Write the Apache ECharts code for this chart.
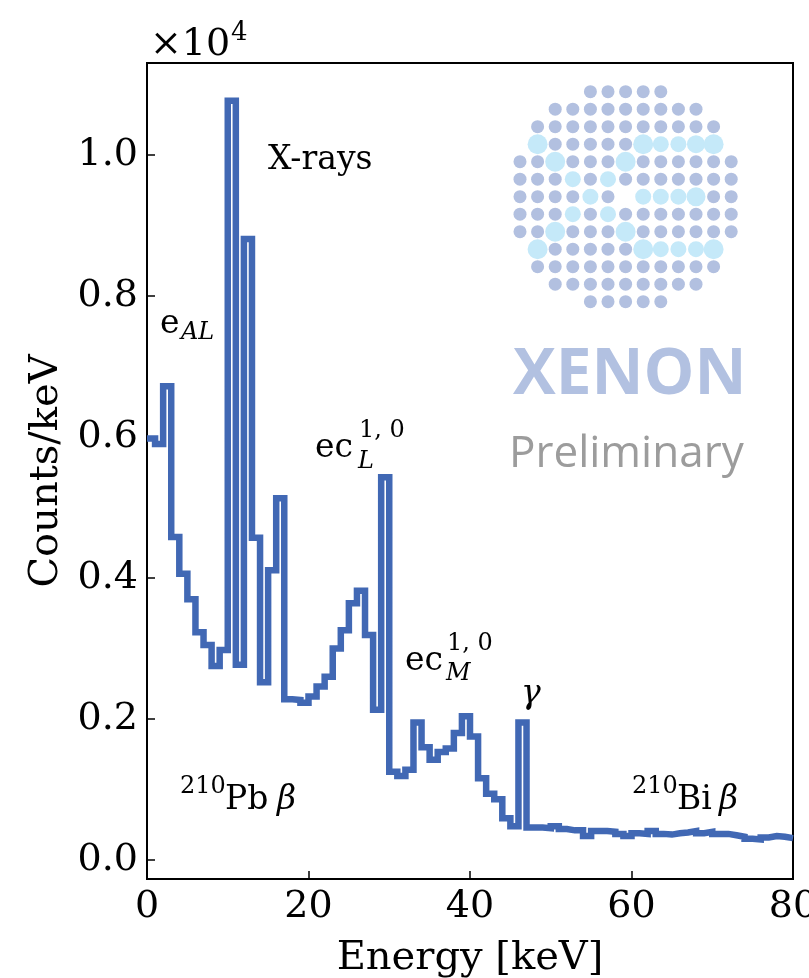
<!DOCTYPE html>
<html><head><meta charset="utf-8">
<script src="https://cdn.jsdelivr.net/npm/echarts@6/dist/echarts.min.js"></script>
<style>html,body{margin:0;padding:0;background:#fff}#c{width:809px;height:978px}</style>
</head><body><div id="c"></div>
<script>
// Bin edges (keV) and counts/keV per 1-keV bin
const binEdges = [0,1,2,3,4,5,6,7,8,9,10,11,12,13,14,15,16,17,18,19,20,21,22,23,24,25,26,27,28,29,30,31,32,33,34,35,36,37,38,39,40,41,42,43,44,45,46,47,48,49,50,51,52,53,54,55,56,57,58,59,60,61,62,63,64,65,66,67,68,69,70,71,72,73,74,75,76,77,78,79,80];
const counts = [5980,5900,6720,4580,4060,3700,3230,3050,2750,2980,
  10770,2770,8810,4570,2520,4110,5130,2280,2270,2230,
  2320,2460,2600,3000,3260,3640,3820,3190,2130,5430,
  1250,1190,1280,1950,1600,1420,1530,1580,1800,2040,
  1750,1160,940,860,590,480,1950,460,460,450,
  480,440,420,420,340,410,410,400,370,340,
  380,370,410,370,360,380,390,410,380,400,
  370,370,350,330,300,290,320,340,330,310];
const xTicks = [0,20,40,60,80];
const yTicks = [0,2000,4000,6000,8000,10000];

const stepData = binEdges.map((e,i)=>[e, counts[Math.min(i, counts.length-1)]]);

const SERIF = '"DejaVu Serif"';
function T(x, y, text, size, opt) {
  opt = opt || {};
  return {type:'text', z:10, style:{text:text, x:x, y:y,
    font:(opt.italic?'italic ':'')+(opt.weight?opt.weight+' ':'')+size+'px '+(opt.family||SERIF),
    fill:opt.color||'#000', textAlign:opt.align||'left', textVerticalAlign:'middle'}};
}

// XENON logo (decoration)
const rowCounts = [5,9,11,11,13,13,13,13,13,11,11,9,5];
const lightDots = {3:{1:10,7:10,8:8,9:8,10:9,11:10},4:{2:10,6:10},5:{3:8,5:8},
  6:{4:8,6:0,7:8,8:8,9:8,10:9.5},7:{3:8,5:8},8:{2:10,6:10},9:{1:10,7:10,8:8,9:8,10:8,11:10}};
const logo = [];
rowCounts.forEach((n,r)=>{
  const c0=(13-n)/2;
  for(let c=c0;c<c0+n;c++){
    const cx=520+c*17.6, cy=91.7+r*17.5;
    const L=lightDots[r]&&lightDots[r][c];
    if(L===0) continue;
    logo.push({type:'circle',z:1,shape:{cx:cx,cy:cy,r:L?L:6.5},style:{fill:L?'#c5e9f9':'#b2c0e0'}});
  }
});

const graphics = logo.concat([
  T(513, 376, 'XENON', 64, {family:'"Open Sans"', weight:'bold', color:'#b2c1e1'}),
  T(509, 454, 'Preliminary', 44, {family:'"Open Sans"', color:'#9c9c9c'}),
  T(150, 45, '×10', 38),
  T(231, 33, '4', 26),
  T(268, 160, 'X-rays', 33),
  T(160, 324, 'e', 33),
  T(181, 333, 'AL', 24, {italic:true}),
  T(315, 448, 'ec', 33),
  T(358, 462, 'L', 24, {italic:true}),
  T(359, 431, '1, 0', 24),
  T(405, 661, 'ec', 33),
  T(446, 674, 'M', 24, {italic:true}),
  T(447, 644, '1, 0', 24),
  T(521, 694, 'γ', 33, {italic:true}),
  T(180, 787, '210', 24),
  T(225, 800, 'Pb', 33),
  T(277, 800, 'β', 33, {italic:true}),
  T(632, 787, '210', 24),
  T(677, 800, 'Bi', 33),
  T(719, 800, 'β', 33, {italic:true})
]);

const chart = echarts.init(document.getElementById('c'), null, {renderer:'canvas'});
chart.setOption({
  animation:false,
  backgroundColor:'#fff',
  grid:{left:147, right:16, top:63, bottom:99, containLabel:false, outerBoundsMode:'none',
    show:true, borderColor:'#000', borderWidth:2, backgroundColor:'transparent'},
  xAxis:{type:'value', min:0, max:80, interval:20,
    axisLine:{show:true, onZero:false, lineStyle:{color:'#000', width:2}},
    axisTick:{show:true, inside:true, length:8, lineStyle:{color:'#000', width:1.5}},
    axisLabel:{fontFamily:SERIF, fontSize:38, color:'#000', margin:9},
    splitLine:{show:false},
    name:'Energy [keV]', nameLocation:'middle', nameGap:60,
    nameTextStyle:{fontFamily:SERIF, fontSize:40, color:'#000'}},
  yAxis:{type:'value', min:-270, max:11305,
    axisLine:{show:true, onZero:false, lineStyle:{color:'#000', width:2}},
    axisTick:{show:true, inside:true, length:8, customValues:yTicks, lineStyle:{color:'#000', width:1.5}},
    axisLabel:{fontFamily:SERIF, fontSize:38, color:'#000', margin:9, customValues:yTicks,
      formatter:v=>(v/10000).toFixed(1)},
    splitLine:{show:false},
    name:'Counts/keV', nameLocation:'middle', nameGap:80,
    nameTextStyle:{fontFamily:SERIF, fontSize:40, color:'#000'}},
  series:[{type:'line', data:stepData, step:'end', showSymbol:false, clip:true,
    lineStyle:{color:'#4168b4', width:6.5, join:'miter'}, z:5}],
  graphic:graphics
});
</script></body></html>
